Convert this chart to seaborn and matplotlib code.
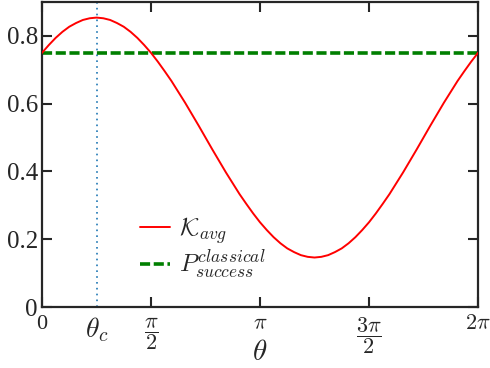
import numpy as np
import pandas as pd
import matplotlib
matplotlib.use("Agg")
import matplotlib.pyplot as plt
import seaborn as sns

# theta in units of pi/32
theta_steps = list(range(65))
k_avg = [0.750, 0.773, 0.794, 0.812, 0.827, 0.838, 0.847, 0.852,
         0.854, 0.852, 0.847, 0.838, 0.827, 0.812, 0.794, 0.773,
         0.750, 0.724, 0.696, 0.667, 0.635, 0.603, 0.569, 0.535,
         0.500, 0.465, 0.431, 0.397, 0.365, 0.333, 0.304, 0.276,
         0.250, 0.227, 0.206, 0.188, 0.173, 0.162, 0.153, 0.148,
         0.146, 0.148, 0.153, 0.162, 0.173, 0.188, 0.206, 0.227,
         0.250, 0.276, 0.304, 0.333, 0.365, 0.397, 0.431, 0.465,
         0.500, 0.535, 0.569, 0.603, 0.635, 0.667, 0.696, 0.724, 0.750]
p_classical = [0.75] * 65
theta_c = np.pi / 4

xtick_vals = [0, np.pi / 2, np.pi, 3 * np.pi / 2, 2 * np.pi]
xtick_labels = ["0", r"$\dfrac{\pi}{2}$", r"$\pi$", r"$\dfrac{3\pi}{2}$", r"$2\pi$"]
ytick_vals = [0, 0.2, 0.4, 0.6, 0.8]
ytick_labels = ["0", "0.2", "0.4", "0.6", "0.8"]

sns.set_style("ticks")
plt.rcParams["font.family"] = ["Liberation Serif", "DejaVu Serif"]
plt.rcParams["mathtext.fontset"] = "cm"

theta = np.array(theta_steps) * np.pi / 32
df = pd.DataFrame({"theta": theta, "K": k_avg, "P": p_classical})

fig = plt.figure(figsize=(4.9, 3.68), dpi=100)
ax = fig.add_axes([42 / 490, 61 / 368, 436 / 490, 305 / 368])

ax.axvline(theta_c, color="#1f77b4", linestyle=(0, (1, 2.5)), linewidth=1.2, zorder=1)
sns.lineplot(data=df, x="theta", y="K", ax=ax, color="red", linewidth=1.4,
             label=r"$\mathcal{K}_{avg}$", zorder=3)
sns.lineplot(data=df, x="theta", y="P", ax=ax, color="#007f00", linewidth=2.6,
             linestyle=(0, (2.8, 1.0)), label=r"$P^{classical}_{success}$", zorder=2)

ax.set_xlim(0, 2 * np.pi)
ax.set_ylim(0, 0.9)
ax.set_xticks(xtick_vals)
ax.set_xticklabels(xtick_labels, va="top")
ax.set_xticks([theta_c], minor=True)
ax.set_xticklabels([r"$\theta_c$"], minor=True)
ax.set_yticks(ytick_vals)
ax.set_yticklabels(ytick_labels)
ax.tick_params(axis="both", which="major", direction="in", length=7, width=1.5,
               labelsize=18, top=True, right=True)
ax.tick_params(axis="x", which="minor", length=0, labelsize=20, pad=6)
ax.tick_params(axis="x", which="major", labelsize=16, pad=6)
ax.tick_params(axis="y", which="major", pad=3)
for s in ax.spines.values():
    s.set_linewidth(1.6)

ax.set_xlabel(r"$\theta$", fontsize=21)
ax.xaxis.set_label_coords(0.5, -0.108)
ax.set_ylabel("")

leg = ax.legend(loc="center left", bbox_to_anchor=(0.174, 0.192), frameon=False,
                fontsize=18, handlelength=1.2, handletextpad=0.35, labelspacing=0.1)

fig.savefig("out.png", dpi=100)
